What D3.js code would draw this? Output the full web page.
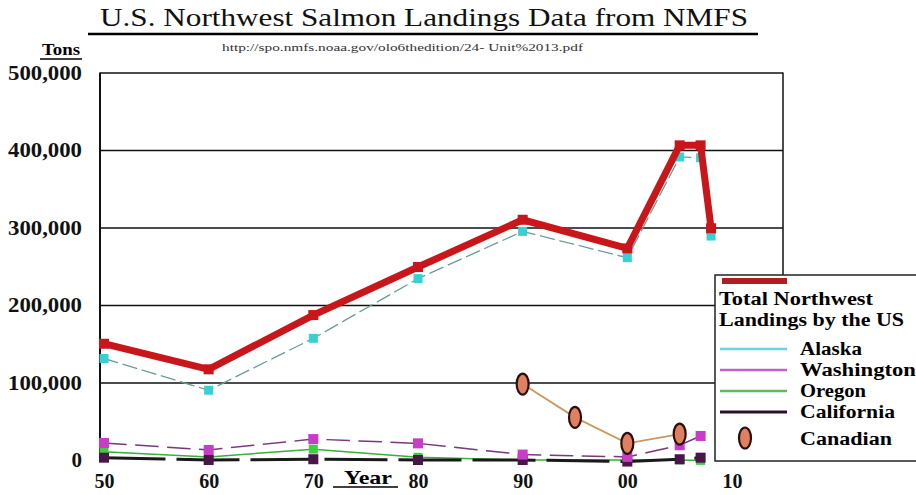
<!DOCTYPE html>
<html>
<head>
<meta charset="utf-8">
<script src="https://cdn.jsdelivr.net/npm/d3@7/dist/d3.min.js"></script>
<style>
  html, body { margin: 0; padding: 0; background: #fff; }
  svg { display: block; }
  text { font-family: "Liberation Serif", "DejaVu Serif", serif; }
</style>
</head>
<body>
<svg id="chart" width="916" height="495"></svg>
<script>
// ---------- data ----------
const yearsMain = [1950, 1960, 1970, 1980, 1990, 2000, 2005, 2007, 2008];
const totalNW   = [150000, 117000, 187000, 249000, 310000, 273000, 406000, 406000, 299000];
const alaska    = [131000, 90000, 157000, 234000, 295000, 261000, 391000, 390000, 289000];

const yearsSmall = [1950, 1960, 1970, 1980, 1990, 2000, 2005, 2007];
const washington = [22000, 13000, 27000, 21500, 7000, 4000, 19000, 31000];
const oregon     = [10500, 4000, 14000, 3500, 0, 0, 0, -500];
const california = [3000, 0, 1000, 0, 0, -2000, 1000, 3000];

const yearsCanada = [1990, 1995, 2000, 2005];
const canadian    = [98000, 55000, 21500, 33500];

const xTicks = [1950, 1960, 1970, 1980, 1990, 2000, 2010];
const yTicks = [0, 100000, 200000, 300000, 400000, 500000];

const titleText = "U.S. Northwest Salmon Landings Data from NMFS";
const urlText = "http://spo.nmfs.noaa.gov/olo6thedition/24- Unit%2013.pdf";

// ---------- layout ----------
const svg = d3.select("#chart");
const x = d3.scaleLinear().domain([1950, 2010]).range([104, 732]);
const y = d3.scaleLinear().domain([0, 500000]).range([460, 72.5]);
const plotLeft = 100, plotRight = 783;

// title
svg.append("text").attr("x", 100).attr("y", 26)
  .attr("font-size", 26).attr("textLength", 648).attr("lengthAdjust", "spacingAndGlyphs")
  .attr("fill", "#111").text(titleText);
svg.append("line").attr("x1", 88).attr("x2", 758).attr("y1", 34).attr("y2", 34)
  .attr("stroke", "#000").attr("stroke-width", 2.5);
svg.append("text").attr("x", 222).attr("y", 51)
  .attr("font-size", 11).attr("textLength", 361).attr("lengthAdjust", "spacingAndGlyphs")
  .attr("fill", "#333").text(urlText);

// "Tons"
svg.append("text").attr("x", 42).attr("y", 55).attr("font-size", 17).attr("font-weight", "bold")
  .attr("textLength", 38).attr("lengthAdjust", "spacingAndGlyphs").text("Tons");
svg.append("line").attr("x1", 40).attr("x2", 82).attr("y1", 59).attr("y2", 59)
  .attr("stroke", "#000").attr("stroke-width", 1.5);

// y axis with gridlines
const yAxis = d3.axisLeft(y).tickValues(yTicks).tickFormat(d3.format(","))
  .tickSize(-(plotRight - plotLeft)).tickPadding(18);
const gy = svg.append("g").attr("transform", `translate(${plotLeft},0)`).call(yAxis);
gy.select(".domain").remove();
gy.selectAll(".tick line").attr("stroke", "#111").attr("stroke-width", 1.5)
  .filter(d => d === 0).remove();
gy.selectAll(".tick text").attr("font-size", 21).attr("font-weight", "bold")
  .attr("font-family", "Liberation Serif, serif").attr("fill", "#111")
  .attr("textLength", d => d === 0 ? null : 74).attr("lengthAdjust", "spacingAndGlyphs");

// frame: left axis and right border
svg.append("line").attr("x1", plotLeft).attr("x2", plotLeft).attr("y1", y(500000)).attr("y2", 461)
  .attr("stroke", "#111").attr("stroke-width", 2);
svg.append("line").attr("x1", plotRight).attr("x2", plotRight).attr("y1", y(500000)).attr("y2", 461)
  .attr("stroke", "#111").attr("stroke-width", 1.5);

// x axis labels
const xAxis = d3.axisBottom(x).tickValues(xTicks)
  .tickFormat(d => String(d).slice(2)).tickSize(0).tickPadding(14);
const gx = svg.append("g").attr("transform", `translate(0,${y(0)})`).call(xAxis);
gx.select(".domain").remove();
gx.selectAll(".tick text").attr("font-size", 20).attr("font-weight", "bold")
  .attr("font-family", "Liberation Serif, serif").attr("fill", "#111");

// "Year"
svg.append("text").attr("x", 344).attr("y", 484).attr("font-size", 19).attr("font-weight", "bold")
  .attr("textLength", 48).attr("lengthAdjust", "spacingAndGlyphs").text("Year");
svg.append("line").attr("x1", 333).attr("x2", 398).attr("y1", 487).attr("y2", 487)
  .attr("stroke", "#000").attr("stroke-width", 1.5);

// ---------- series ----------
function drawSeries(years, vals, opt) {
  const pts = years.map((yr, i) => [x(yr), y(vals[i])]);
  const line = d3.line();
  svg.append("path").attr("d", line(pts)).attr("fill", "none")
    .attr("stroke", opt.stroke).attr("stroke-width", opt.width)
    .attr("stroke-dasharray", opt.dash || null)
    .attr("stroke-linejoin", "miter").attr("stroke-linecap", "square");
  if (opt.marker) {
    const s = opt.size;
    svg.append("g").selectAll("rect").data(pts).join("rect")
      .attr("x", p => p[0] - s / 2).attr("y", p => p[1] - s / 2)
      .attr("width", s).attr("height", s).attr("fill", opt.marker);
  }
}

drawSeries(yearsSmall, oregon, { stroke: "#3cae3c", width: 1.5, marker: "#3cd040", size: 9 });
drawSeries(yearsSmall, california, { stroke: "#1a1a1a", width: 3, dash: "60,14", marker: "#4a1548", size: 10 });
drawSeries(yearsSmall, washington, { stroke: "#7a3a7a", width: 1.5, dash: "22,10", marker: "#c83cc8", size: 10 });
drawSeries(yearsMain, alaska, { stroke: "#6a9a9a", width: 1.3, dash: "14,6", marker: "#38d0d0", size: 9 });
drawSeries(yearsMain, totalNW, { stroke: "#c8161a", width: 7, marker: "#c8161a", size: 10 });

// Canadian
const cPts = yearsCanada.map((yr, i) => [x(yr), y(canadian[i])]);
svg.append("path").attr("d", d3.line()(cPts)).attr("fill", "none")
  .attr("stroke", "#c89a60").attr("stroke-width", 1.8);
svg.append("g").selectAll("ellipse").data(cPts).join("ellipse")
  .attr("cx", p => p[0]).attr("cy", p => p[1]).attr("rx", 6).attr("ry", 10.5)
  .attr("fill", "#e08060").attr("stroke", "#2a1010").attr("stroke-width", 2.2);

// ---------- legend ----------
const lg = svg.append("g");
lg.append("rect").attr("x", 715).attr("y", 275).attr("width", 210).attr("height", 186)
  .attr("fill", "#fff").attr("stroke", "#222").attr("stroke-width", 1.5);
lg.append("line").attr("x1", 722).attr("x2", 787).attr("y1", 281).attr("y2", 281)
  .attr("stroke", "#b01e22").attr("stroke-width", 6);
const lgFont = 18;
lg.append("text").attr("x", 719).attr("y", 305).attr("font-size", lgFont).attr("font-weight", "bold")
  .attr("textLength", 154).attr("lengthAdjust", "spacingAndGlyphs").text("Total Northwest");
lg.append("text").attr("x", 719).attr("y", 326).attr("font-size", lgFont).attr("font-weight", "bold")
  .attr("textLength", 185).attr("lengthAdjust", "spacingAndGlyphs").text("Landings by the US");

const legendItems = [
  { name: "Alaska", color: "#66d8dc", w: 2.5, yy: 349, tl: 62 },
  { name: "Washington", color: "#c060c8", w: 2.5, yy: 370, tl: 116 },
  { name: "Oregon", color: "#60b860", w: 2.5, yy: 391, tl: 66 },
  { name: "California", color: "#2a1030", w: 3, yy: 412, tl: 95 }
];
legendItems.forEach(it => {
  lg.append("line").attr("x1", 720).attr("x2", 787).attr("y1", it.yy).attr("y2", it.yy)
    .attr("stroke", it.color).attr("stroke-width", it.w);
  lg.append("text").attr("x", 800).attr("y", it.yy + 6).attr("font-size", lgFont).attr("font-weight", "bold")
    .attr("textLength", it.tl).attr("lengthAdjust", "spacingAndGlyphs").text(it.name);
});
lg.append("ellipse").attr("cx", 745).attr("cy", 438).attr("rx", 6).attr("ry", 10.5)
  .attr("fill", "#e08060").attr("stroke", "#2a1010").attr("stroke-width", 2.2);
lg.append("text").attr("x", 800).attr("y", 445).attr("font-size", lgFont).attr("font-weight", "bold")
  .attr("textLength", 92).attr("lengthAdjust", "spacingAndGlyphs").text("Canadian");
</script>
</body>
</html>
